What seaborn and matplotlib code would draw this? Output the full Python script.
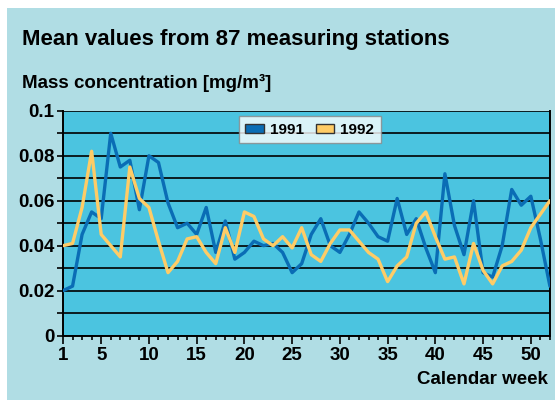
import numpy as np
import pandas as pd
import seaborn as sns
import matplotlib.pyplot as plt
from matplotlib.patches import Patch, Rectangle
from matplotlib.ticker import MultipleLocator, FixedLocator

# Weekly mean mass concentration [mg/m3], 87 stations
weeks = list(range(1, 53))
conc_1991 = [0.020, 0.022, 0.045, 0.055, 0.052, 0.090, 0.075, 0.078, 0.056, 0.080,
             0.077, 0.059, 0.048, 0.050, 0.045, 0.057, 0.037, 0.051, 0.034, 0.037,
             0.042, 0.040, 0.041, 0.037, 0.028, 0.032, 0.045, 0.052, 0.040, 0.037,
             0.045, 0.055, 0.050, 0.044, 0.042, 0.061, 0.045, 0.052, 0.039, 0.028,
             0.072, 0.049, 0.036, 0.060, 0.028, 0.026, 0.040, 0.065, 0.058, 0.062,
             0.043, 0.022]
conc_1992 = [0.040, 0.041, 0.057, 0.082, 0.045, 0.040, 0.035, 0.075, 0.061, 0.057,
             0.042, 0.028, 0.033, 0.043, 0.044, 0.037, 0.032, 0.048, 0.037, 0.055,
             0.053, 0.043, 0.040, 0.044, 0.039, 0.048, 0.036, 0.033, 0.041, 0.047,
             0.047, 0.042, 0.037, 0.034, 0.024, 0.031, 0.035, 0.050, 0.055, 0.044,
             0.034, 0.035, 0.023, 0.041, 0.029, 0.023, 0.031, 0.033, 0.038, 0.048,
             0.054, 0.060]
years = ["1991", "1992"]
x_ticks = [1, 5, 10, 15, 20, 25, 30, 35, 40, 45, 50]
y_ticks = [0, 0.02, 0.04, 0.06, 0.08, 0.1]
y_labels = ["0", "0.02", "0.04", "0.06", "0.08", "0.1"]

df = pd.DataFrame({
    "week": weeks * 2,
    "conc": conc_1991 + conc_1992,
    "year": ["1991"] * 52 + ["1992"] * 52,
})

sns.set_style("ticks")
plt.rcParams["font.family"] = ["Liberation Sans", "DejaVu Sans"]
plt.rcParams["font.weight"] = "bold"
plt.rcParams["text.color"] = "black"

colors = {"1991": "#0a6db5", "1992": "#ffcc66"}

fig = plt.figure(figsize=(5.6, 4.0), dpi=100)
fig.patch.set_facecolor("white")
fig.patches.append(Rectangle((0.0125, 0.0), 0.9786, 0.98, transform=fig.transFigure,
                             facecolor="#b0dde4", edgecolor="none", zorder=-10))

ax = fig.add_axes([0.1125, 0.161, 0.8695, 0.562])
ax.set_facecolor("#4bc4e0")

sns.lineplot(data=df, x="week", y="conc", hue="year", palette=colors,
             linewidth=2.4, ax=ax, legend=False, zorder=3)

ax.set_xlim(1, 52)
ax.set_ylim(0, 0.1)
ax.xaxis.set_major_locator(FixedLocator(x_ticks))
ax.xaxis.set_minor_locator(MultipleLocator(1))
ax.set_yticks(y_ticks, labels=y_labels)
ax.yaxis.set_minor_locator(FixedLocator([0.01, 0.03, 0.05, 0.07, 0.09]))
ax.grid(True, axis="y", which="both", color="black", linewidth=1.2, zorder=1)
ax.set_axisbelow(True)

ax.tick_params(axis="both", which="both", direction="out", colors="black",
               labelsize=13.5, width=1.2)
ax.tick_params(axis="x", which="major", length=6, pad=2)
ax.tick_params(axis="x", which="minor", length=3)
ax.tick_params(axis="y", which="both", length=4, pad=2)
for side in ["left", "bottom", "right"]:
    ax.spines[side].set_color("black")
    ax.spines[side].set_linewidth(1.4)
ax.spines["top"].set_visible(False)
ax.set_xlabel("")
ax.set_ylabel("")

handles = [Patch(facecolor=colors[y], edgecolor="#333333", label=y) for y in years]
leg = ax.legend(handles=handles, loc="upper center", bbox_to_anchor=(0.507, 0.975),
                ncol=2, frameon=True, fancybox=False, fontsize=11,
                handlelength=1.2, handleheight=0.55, handletextpad=0.4,
                columnspacing=0.8, borderpad=0.4, borderaxespad=0.0)
leg.get_frame().set_edgecolor("#888888")
leg.get_frame().set_linewidth(1.0)

fig.text(0.039, 0.90, "Mean values from 87 measuring stations", fontsize=16,
         fontweight="bold", ha="left", va="center")
fig.text(0.039, 0.7925, "Mass concentration [mg/m³]", fontsize=13.5,
         fontweight="bold", ha="left", va="center")
fig.text(0.979, 0.05, "Calendar week", fontsize=13.5, fontweight="bold",
         ha="right", va="center")

fig.savefig("out.png", dpi=100, facecolor="white")
